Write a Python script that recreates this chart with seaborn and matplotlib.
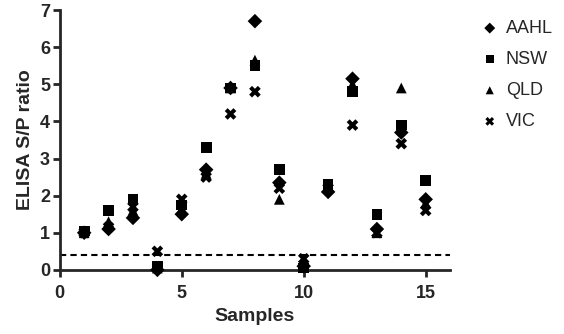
import pandas as pd
import matplotlib
matplotlib.use('Agg')
import matplotlib.pyplot as plt
import seaborn as sns

samples = list(range(1, 16))
aahl = [1.0, 1.1, 1.4, 0.0, 1.5, 2.7, 4.9, 6.7, 2.35, 0.1, 2.1, 5.15, 1.1, 3.7, 1.9]
nsw = [1.05, 1.6, 1.9, 0.1, 1.75, 3.3, 4.9, 5.5, 2.7, 0.05, 2.3, 4.8, 1.5, 3.9, 2.4]
qld = [1.0, 1.3, 1.6, 0.05, 1.65, 2.6, 4.9, 5.65, 1.9, 0.15, 2.2, 5.0, 1.0, 4.9, 1.8]
vic = [1.0, 1.15, 1.7, 0.5, 1.9, 2.5, 4.2, 4.8, 2.2, 0.3, 2.2, 3.9, 1.0, 3.4, 1.6]
groups = ['AAHL', 'NSW', 'QLD', 'VIC']
cutoff = 0.4

rows = []
for name, vals in zip(groups, [aahl, nsw, qld, vic]):
    for s, v in zip(samples, vals):
        rows.append({'Samples': s, 'ratio': v, 'group': name})
df = pd.DataFrame(rows)

sns.set_style('ticks')
plt.rcParams['font.family'] = ['Liberation Sans', 'DejaVu Sans']

fig = plt.figure(figsize=(5.64, 3.34), dpi=100)
ax = fig.add_axes([0.106, 0.192, 0.692, 0.778])

markers = {'AAHL': 'D', 'NSW': 's', 'QLD': '^', 'VIC': 'X'}
sizes = {'AAHL': 55, 'NSW': 60, 'QLD': 60, 'VIC': 70}
for g in groups:
    sub = df[df['group'] == g]
    sns.scatterplot(data=sub, x='Samples', y='ratio', marker=markers[g], s=sizes[g],
                    color='black', edgecolor='none', ax=ax, label=g, zorder=3,
                    clip_on=False)

ax.axhline(cutoff, color='black', linestyle=(0, (3, 2)), linewidth=1.5, zorder=2)

ax.set_xlim(0, 16)
ax.set_ylim(0, 7)
ax.set_xticks([0, 5, 10, 15])
ax.set_yticks(range(0, 8))
for sp in ['top', 'right']:
    ax.spines[sp].set_visible(False)
for sp in ['left', 'bottom']:
    ax.spines[sp].set_linewidth(2)
ax.tick_params(width=2, length=5, labelsize=13, pad=2)
ax.tick_params(axis='x', pad=6)
for lab in ax.get_xticklabels() + ax.get_yticklabels():
    lab.set_fontweight('bold')
ax.set_xlabel('Samples', fontsize=14, fontweight='bold', labelpad=4)
ax.set_ylabel('ELISA S/P ratio', fontsize=14, fontweight='bold', labelpad=4)

leg = ax.legend(loc='upper left', bbox_to_anchor=(1.06, 0.99), frameon=False,
                borderaxespad=0, fontsize=13, markerscale=0.75,
                handlelength=1.0, handletextpad=0.4, labelspacing=0.78)

fig.savefig('out.png', dpi=100)
